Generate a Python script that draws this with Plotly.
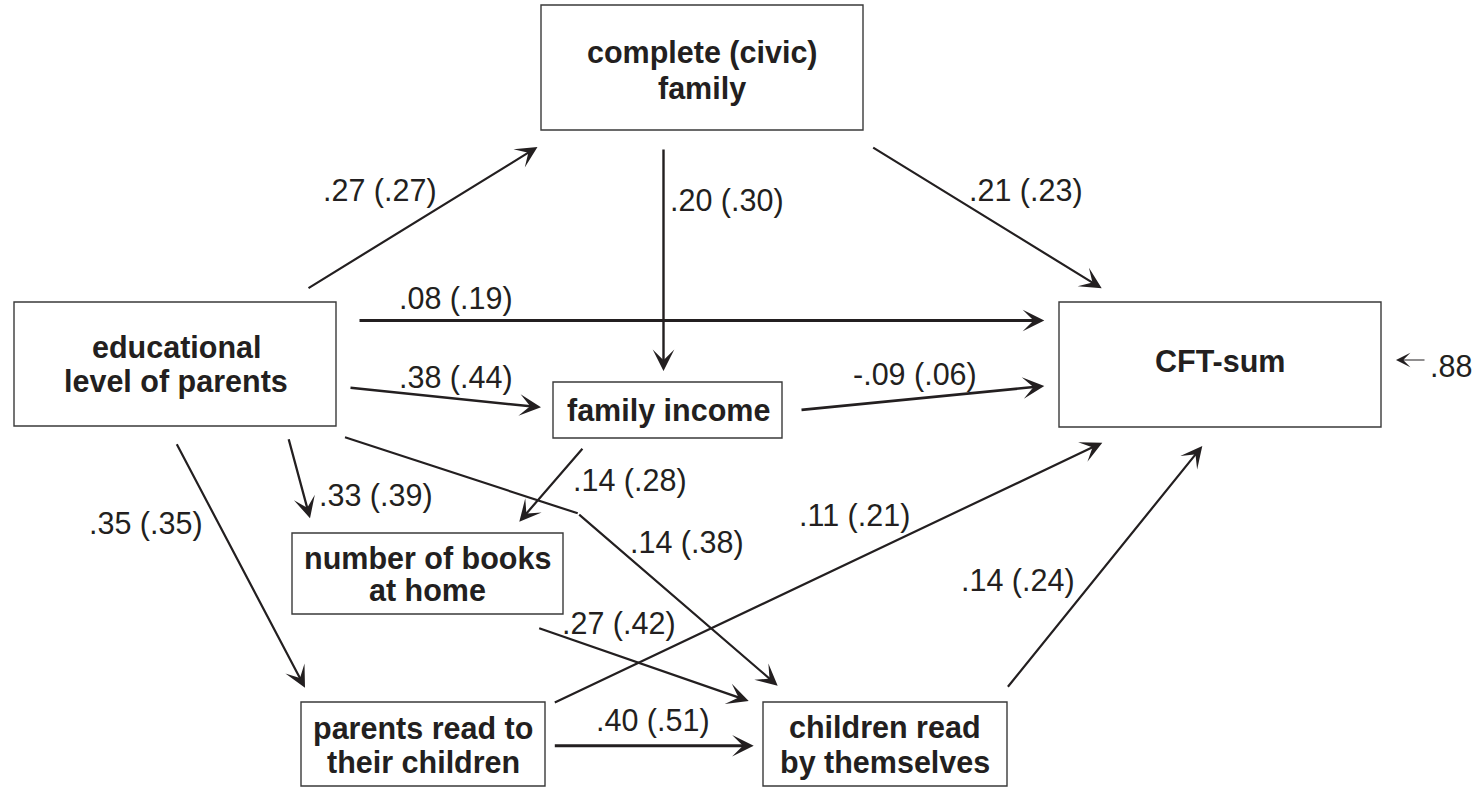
import plotly.graph_objects as go

# ---------------- data ----------------
node_names = [
    "complete (civic)\nfamily",
    "educational\nlevel of parents",
    "family income",
    "CFT-sum",
    "number of books\nat home",
    "parents read to\ntheir children",
    "children read\nby themselves",
]
path_from = ["educational\nlevel of parents", "complete (civic)\nfamily", "complete (civic)\nfamily",
             "educational\nlevel of parents", "educational\nlevel of parents", "family income",
             "family income", "educational\nlevel of parents", "educational\nlevel of parents",
             "educational\nlevel of parents", "number of books\nat home", "parents read to\ntheir children",
             "parents read to\ntheir children", "children read\nby themselves"]
path_to = ["complete (civic)\nfamily", "family income", "CFT-sum", "CFT-sum", "family income", "CFT-sum",
           "number of books\nat home", "number of books\nat home", "parents read to\ntheir children",
           "children read\nby themselves", "children read\nby themselves", "CFT-sum",
           "children read\nby themselves", "CFT-sum"]
path_coef = [".27 (.27)", ".20 (.30)", ".21 (.23)", ".08 (.19)", ".38 (.44)", "-.09 (.06)",
             ".14 (.28)", ".33 (.39)", ".35 (.35)", ".14 (.38)", ".27 (.42)", ".11 (.21)",
             ".40 (.51)", ".14 (.24)"]
residual_label = ".88"

# ---------------- layout geometry (pixels, y downward) ----------------
W, H = 1476, 787
box_geom = {  # x0, x1, y0, y1, line centres y, centre x
    "complete (civic)\nfamily": (541, 863, 5, 130, [52, 88], 702),
    "educational\nlevel of parents": (14, 336, 302, 426, [347, 381], 176),
    "family income": (553, 782, 382, 438, [410], 668),
    "CFT-sum": (1059, 1381, 302, 427, [361], 1220),
    "number of books\nat home": (292, 563, 533, 614, [558, 590], 427),
    "parents read to\ntheir children": (301, 545, 702, 786, [728, 762], 423),
    "children read\nby themselves": (763, 1007, 702, 786, [727, 762], 885),
}
# arrow geometry: list of points (tail ... tip), line width
arrow_geom = [
    ([(307, 289), (537.5, 147)], 2.2),
    ([(663.5, 148), (663.5, 371)], 2.4),
    ([(871.7, 146.7), (1101.7, 288.3)], 2.2),
    ([(358, 320.5), (1044.3, 320.5)], 2.8),
    ([(349, 387.7), (541, 407.3)], 2.5),
    ([(800, 410), (1044.3, 386)], 2.6),
    ([(583.7, 447.3), (519.3, 521.7)], 2.2),
    ([(288.3, 437.7), (310, 518.3)], 2.3),
    ([(176, 442.7), (305, 687.7)], 2.2),
    ([(345, 437.3), (577.7, 513.3), (777.7, 685.7)], 2.2),
    ([(537.7, 627.7), (748.7, 701)], 2.3),
    ([(553.3, 703.3), (1102.3, 442.7)], 2.2),
    ([(553.3, 745.7), (753.7, 745.7)], 2.9),
    ([(1006.7, 688.3), (1202.3, 446)], 2.2),
]
label_pos = [(380, 190), (727, 200), (1026, 190), (456, 298), (456, 377), (915, 374),
             (630, 480), (376, 495), (146, 523), (687, 542), (619, 623), (854, 515),
             (653, 720), (1018, 580)]
resid_arrow = ((1426, 360), (1396, 360))
resid_pos = (1451, 366)

INK = "#231f20"
FONT = "Arial, 'Liberation Sans', Helvetica, sans-serif"
FS = 30.5
HEAD = 3.6

fig = go.Figure()
# invisible trace to establish axes
fig.add_trace(go.Scatter(x=[0, W], y=[0, H], mode="markers",
                         marker=dict(opacity=0), hoverinfo="skip", showlegend=False))

shapes = []
annotations = []

for name in node_names:
    x0, x1, y0, y1, ys, cx = box_geom[name]
    shapes.append(dict(type="rect", x0=x0, x1=x1, y0=y0, y1=y1, xref="x", yref="y",
                       line=dict(color="#3a3a3a", width=1.4), fillcolor="rgba(0,0,0,0)"))
    for line_text, ly in zip(name.split("\n"), ys):
        annotations.append(dict(x=cx, y=ly, xref="x", yref="y", text="<b>" + line_text + "</b>",
                                showarrow=False, xanchor="center", yanchor="middle",
                                font=dict(family=FONT, size=FS, color=INK)))

for (pts, lw), coef, (lx, ly) in zip(arrow_geom, path_coef, label_pos):
    # intermediate segments
    for (ax0, ay0), (ax1, ay1) in zip(pts[:-2], pts[1:-1]):
        shapes.append(dict(type="line", x0=ax0, y0=ay0, x1=ax1, y1=ay1, xref="x", yref="y",
                           line=dict(color=INK, width=lw)))
    (tx, ty), (hx, hy) = pts[-2], pts[-1]
    annotations.append(dict(x=hx, y=hy, ax=tx, ay=ty, xref="x", yref="y", axref="x", ayref="y",
                            text="", showarrow=True, arrowhead=3, arrowsize=HEAD / lw,
                            arrowwidth=lw, arrowcolor=INK, standoff=0, startstandoff=0))
    annotations.append(dict(x=lx, y=ly, xref="x", yref="y", text=coef, showarrow=False,
                            xanchor="center", yanchor="middle",
                            font=dict(family=FONT, size=FS, color=INK)))

(rtx, rty), (rhx, rhy) = resid_arrow
annotations.append(dict(x=rhx, y=rhy, ax=rtx, ay=rty, xref="x", yref="y", axref="x", ayref="y",
                        text="", showarrow=True, arrowhead=3, arrowsize=2.0, arrowwidth=1.2,
                        arrowcolor=INK, standoff=0))
annotations.append(dict(x=resid_pos[0], y=resid_pos[1], xref="x", yref="y", text=residual_label,
                        showarrow=False, xanchor="center", yanchor="middle",
                        font=dict(family=FONT, size=FS, color=INK)))

fig.update_layout(
    width=W, height=H, margin=dict(l=0, r=0, t=0, b=0),
    paper_bgcolor="white", plot_bgcolor="white",
    xaxis=dict(range=[0, W], visible=False, fixedrange=True),
    yaxis=dict(range=[H, 0], visible=False, fixedrange=True),
    shapes=shapes, annotations=annotations, showlegend=False,
)
fig.write_html("out.html", config={"displayModeBar": False})
